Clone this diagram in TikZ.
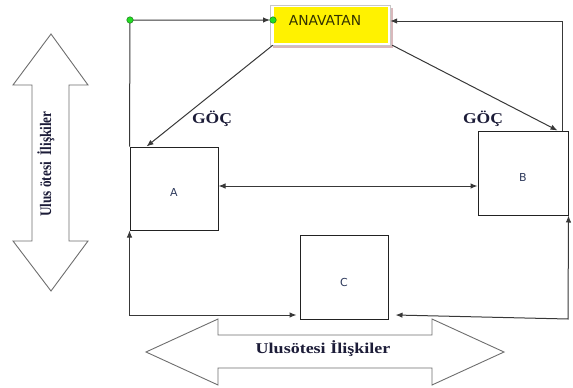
\documentclass[tikz,border=0pt]{standalone}
\usepackage{fontspec}
\setmainfont{Liberation Serif}
\newfontfamily\labsans{DejaVu Sans}
\usetikzlibrary{arrows.meta,calc}
\definecolor{linec}{HTML}{383838}
\definecolor{boxc}{HTML}{222222}
\definecolor{bigc}{HTML}{6E6E6E}
\definecolor{labc}{HTML}{2E3A5C}
\definecolor{txtc}{HTML}{1C1C38}
\definecolor{anavc}{HTML}{333300}
\definecolor{pinkshade}{HTML}{D9B9BC}
\definecolor{dotfill}{HTML}{22DD22}
\definecolor{dotdraw}{HTML}{1A7A1A}
\begin{document}
\begin{tikzpicture}[x=1pt,y=-1pt,
  conn/.style={draw=linec, line width=1pt},
  endarrow/.style={-{Latex[length=7pt,width=5.5pt]}},
  botharrow/.style={{Latex[length=7pt,width=5.5pt]}-{Latex[length=7pt,width=5.5pt]}},
  sq/.style={draw=boxc, line width=1pt, minimum width=88pt, minimum height=83pt, inner sep=0pt},
  lab/.style={font=\labsans\fontsize{11}{13}\selectfont, text=labc, inner sep=0pt},
  anavbox/.style={fill=yellow, minimum width=114pt, minimum height=36pt, inner sep=0pt},
  anavtext/.style={font=\labsans\fontsize{13.8}{16}\selectfont, text=anavc, inner sep=0pt},
  gdot/.style={circle, fill=dotfill, draw=dotdraw, line width=0.5pt, minimum size=6.5pt, inner sep=0pt},
  bigarrow/.style={draw=bigc, line width=0.9pt, fill=white},
  bigtext/.style={font=\fontsize{15}{18}\selectfont\bfseries, text=txtc, inner sep=0pt},
  goc/.style={font=\fontsize{15}{18}\selectfont\bfseries, text=txtc, inner sep=0pt, anchor=base}
]
\useasboundingbox (0,0) rectangle (573,388);

% boxes
\node[sq, label={[lab, yshift=-3.5pt]center:A}] (A) at (174,188.5) {};
\node[sq, minimum width=90pt, minimum height=84pt, label={[lab, yshift=-4pt]center:B}] (B) at (523,173) {};
\node[sq, minimum height=84pt, label={[lab, yshift=-5pt]center:C}] (C) at (344,277) {};

% ANAVATAN box with frame and shadow
\fill[pinkshade] (273,8) rectangle (393,48);
\draw[draw=black!22, fill=white, line width=0.6pt] (270,5) rectangle (390,45);
\node[anavbox, label={[anavtext, xshift=-6pt, yshift=5pt]center:ANAVATAN}] (anav) at (331,25) {};

% connectors
\coordinate (g1) at (130,20);
\coordinate (g2) at (273,20);
\coordinate (br) at (568,319);
\draw[conn, endarrow, shorten >=3pt] (A.north west) -- (g1) -- (g2);
\draw[conn, endarrow] ([xshift=-6pt]B.north east) |- ([xshift=2pt,yshift=4pt]anav.east);
\draw[conn, endarrow] ([xshift=-1pt,yshift=-2pt]anav.south west) -- ([xshift=17pt]A.north west);
\draw[conn, endarrow] ([xshift=4pt,yshift=-2pt]anav.south east) -- ([xshift=-11pt]B.north east);
\draw[conn, botharrow] ([yshift=2.5pt]A.east) -- ([yshift=2.5pt]A.east -| B.west);
\draw[conn, botharrow] (A.south west) |- ([xshift=-3pt,yshift=-38pt]C.west);
\draw[conn, botharrow] (B.south east) -- (br) -- ([xshift=7pt,yshift=-38pt]C.east);

\node[gdot] (dot1) at (g1) {};
\node[gdot] (dot2) at (g2) {};

% GÖÇ labels
\node[goc] (goc1) at (212,123) {\scalebox{1.17}[1]{GÖÇ}};
\node[goc] (goc2) at (483,123) {\scalebox{1.17}[1]{GÖÇ}};

% big double arrows
\draw[bigarrow] (51,34) -- (88,85) -- (69,85) -- (69,241) -- (88,241) -- (51,291) -- (13,241) -- (32,241) -- (32,85) -- (13,85) -- cycle;
\node[bigtext, rotate=90, anchor=base] (vtext) at (51,164) {\scalebox{0.88}[1.07]{Ulus ötesi\ \ İlişkiler}};

\draw[bigarrow] (146,352) -- (218,319) -- (218,335) -- (432,335) -- (432,319) -- (504,352) -- (432,385) -- (432,368) -- (218,368) -- (218,385) -- cycle;
\node[bigtext, anchor=base] (htext) at (323,353) {\scalebox{1.2}[1]{Ulusötesi İlişkiler}};
\end{tikzpicture}
\end{document}
